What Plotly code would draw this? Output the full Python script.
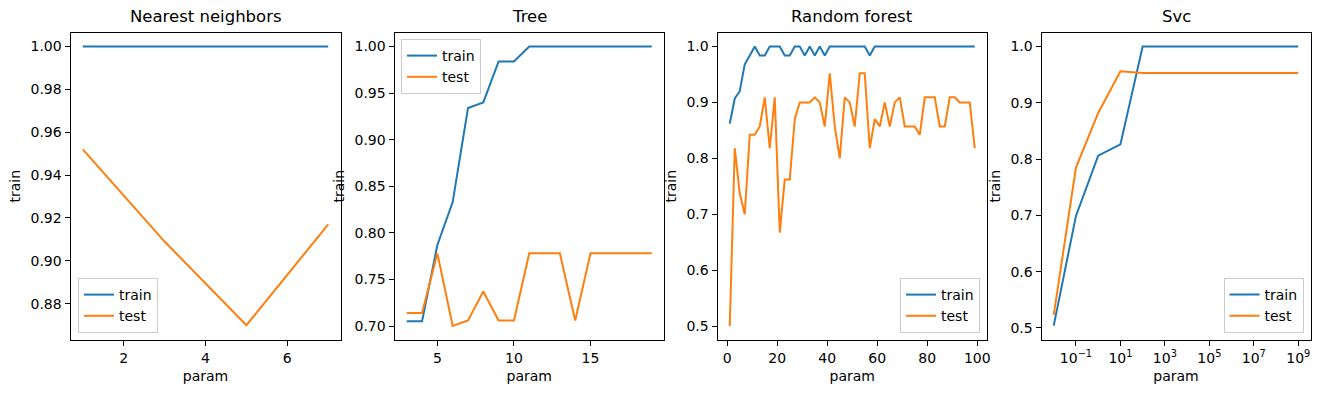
import plotly.graph_objects as go

W, H = 1320, 398

# ---------------- data ----------------
knn_param = [1, 3, 5, 7]
knn_train = [1.0, 1.0, 1.0, 1.0]
knn_test = [0.952, 0.909, 0.870, 0.917]

tree_param = list(range(3, 20))
tree_train = [0.705, 0.705, 0.787, 0.833, 0.934, 0.940, 0.984, 0.984,
              1.0, 1.0, 1.0, 1.0, 1.0, 1.0, 1.0, 1.0, 1.0]
tree_test = [0.714, 0.714, 0.778, 0.700, 0.706, 0.737, 0.706, 0.706,
             0.778, 0.778, 0.778, 0.706, 0.778, 0.778, 0.778, 0.778, 0.778]

rf_param = list(range(1, 100, 2))
rf_train = [0.862, 0.907, 0.920, 0.968, 0.984, 1.0, 0.984, 0.984, 1.0, 1.0,
            1.0, 0.984, 0.984, 1.0, 1.0, 0.984, 1.0, 0.984, 1.0, 0.984,
            1.0, 1.0, 1.0, 1.0, 1.0, 1.0, 1.0, 1.0, 0.984, 1.0,
            1.0, 1.0, 1.0, 1.0, 1.0, 1.0, 1.0, 1.0, 1.0, 1.0,
            1.0, 1.0, 1.0, 1.0, 1.0, 1.0, 1.0, 1.0, 1.0, 1.0]
rf_test = [0.5, 0.818, 0.737, 0.700, 0.842, 0.842, 0.857, 0.909, 0.818, 0.909,
           0.667, 0.762, 0.762, 0.870, 0.900, 0.900, 0.900, 0.909, 0.900, 0.857,
           0.952, 0.857, 0.800, 0.909, 0.900, 0.857, 0.952, 0.952, 0.818, 0.870,
           0.857, 0.900, 0.857, 0.900, 0.909, 0.857, 0.857, 0.857, 0.842, 0.909,
           0.909, 0.909, 0.857, 0.857, 0.909, 0.909, 0.900, 0.900, 0.900, 0.818]

svc_param = [1e-2, 1e-1, 1e0, 1e1, 1e2, 1e3, 1e4, 1e5, 1e6, 1e7, 1e8, 1e9]
svc_train = [0.504, 0.699, 0.806, 0.826, 1.0, 1.0, 1.0, 1.0, 1.0, 1.0, 1.0, 1.0]
svc_test = [0.523, 0.785, 0.882, 0.956, 0.953, 0.953, 0.953, 0.953, 0.953, 0.953, 0.953, 0.953]

titles = ["Nearest neighbors", "Tree", "Random forest", "Svc"]
svc_tickvals = [1e-1, 1e1, 1e3, 1e5, 1e7, 1e9]
svc_ticktext = ["10<sup>−1</sup>", "10<sup>1</sup>", "10<sup>3</sup>",
                "10<sup>5</sup>", "10<sup>7</sup>", "10<sup>9</sup>"]

# ---------------- layout geometry (pixels) ----------------
panels_px = [(70.5, 340.5), (394.5, 664.0), (717.5, 987.0), (1041.5, 1310.5)]
top_px, bot_px = 32.5, 340.0

BLUE, ORANGE = "#1f77b4", "#ff7f0e"
FONT = "DejaVu Sans"

datasets = [
    (knn_param, knn_train, knn_test),
    (tree_param, tree_train, tree_test),
    (rf_param, rf_train, rf_test),
    (svc_param, svc_train, svc_test),
]

fig = go.Figure()
for i, (xp, tr, te) in enumerate(datasets):
    n = "" if i == 0 else str(i + 1)
    leg = "legend" + n
    fig.add_trace(go.Scatter(x=xp, y=tr, mode="lines", name="train",
                             line=dict(color=BLUE, width=2),
                             xaxis="x" + n, yaxis="y" + n, legend=leg))
    fig.add_trace(go.Scatter(x=xp, y=te, mode="lines", name="test",
                             line=dict(color=ORANGE, width=2),
                             xaxis="x" + n, yaxis="y" + n, legend=leg))

axis_common = dict(showline=True, mirror=True, linecolor="black", linewidth=1,
                   ticks="outside", ticklen=5, tickwidth=1, tickcolor="black",
                   showgrid=False, zeroline=False,
                   tickfont=dict(family=FONT, size=14, color="black"),
                   automargin=False)

xranges = [[0.7, 7.3], [2.2, 19.8], [-3.9, 103.9], [-2.55, 9.55]]
yranges = [[0.8631, 1.0065], [0.685, 1.015], [0.475, 1.025], [0.4785, 1.0249]]
xticks = [[2, 4, 6], [5, 10, 15], [0, 20, 40, 60, 80, 100], svc_tickvals]
yticks = [[0.88, 0.90, 0.92, 0.94, 0.96, 0.98, 1.00],
          [0.70, 0.75, 0.80, 0.85, 0.90, 0.95, 1.00],
          [0.5, 0.6, 0.7, 0.8, 0.9, 1.0],
          [0.5, 0.6, 0.7, 0.8, 0.9, 1.0]]
yfmt = [".2f", ".2f", ".1f", ".1f"]

ydom = [1 - bot_px / H, 1 - top_px / H]
layout = {}
for i in range(4):
    n = "" if i == 0 else str(i + 1)
    l, r = panels_px[i]
    xa = dict(axis_common, domain=[l / W, r / W], range=xranges[i],
              anchor="y" + n,
              title=dict(text="param", font=dict(family=FONT, size=14, color="black"), standoff=6))
    if i == 3:
        xa.update(type="log", tickvals=xticks[i], ticktext=svc_ticktext)
    else:
        xa.update(tickvals=xticks[i])
    ya = dict(axis_common, domain=ydom, range=yranges[i], anchor="x" + n,
              tickvals=yticks[i], tickformat=yfmt[i],
              title=dict(text="train", font=dict(family=FONT, size=14, color="black"), standoff=6))
    layout["xaxis" + n] = xa
    layout["yaxis" + n] = ya

legend_common = dict(bgcolor="rgba(255,255,255,0.8)", bordercolor="#cccccc", borderwidth=1,
                     font=dict(family=FONT, size=14, color="black"),
                     tracegroupgap=0, itemwidth=30)
layout["legend"] = dict(legend_common, x=78 / W, y=1 - 333 / H, xanchor="left", yanchor="bottom")
layout["legend2"] = dict(legend_common, x=401 / W, y=1 - 39 / H, xanchor="left", yanchor="top")
layout["legend3"] = dict(legend_common, x=980 / W, y=1 - 333 / H, xanchor="right", yanchor="bottom")
layout["legend4"] = dict(legend_common, x=1303.5 / W, y=1 - 333 / H, xanchor="right", yanchor="bottom")

annotations = []
for i in range(4):
    l, r = panels_px[i]
    annotations.append(dict(text=titles[i], x=(l + r) / 2 / W, y=1 - 28 / H,
                            xref="paper", yref="paper", xanchor="center", yanchor="bottom",
                            showarrow=False, font=dict(family=FONT, size=16.5, color="black")))

fig.update_layout(**layout)
fig.update_layout(width=W, height=H, margin=dict(l=0, r=0, t=0, b=0),
                  paper_bgcolor="white", plot_bgcolor="white",
                  showlegend=True, annotations=annotations,
                  font=dict(family=FONT, color="black"))

fig.write_html("out.html", config={"displayModeBar": False},
               post_script="document.body.style.margin='0';document.body.style.overflow='hidden';")
